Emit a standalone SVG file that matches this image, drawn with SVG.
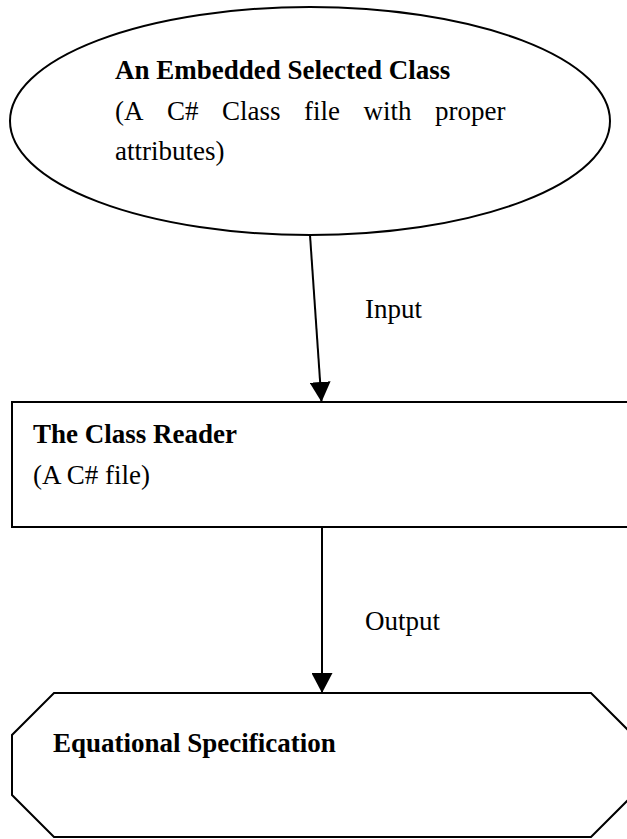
<svg xmlns="http://www.w3.org/2000/svg" width="627" height="839" viewBox="0 0 627 839">
<style>
  .shape { fill: #ffffff; stroke: #000000; stroke-width: 2; }
  .conn { stroke: #000000; stroke-width: 2; fill: none; }
  text { font-family: "Liberation Serif", "Times New Roman", serif; font-size: 27px; fill: #000000; }
  .b { font-weight: bold; }
</style>
<defs>
  <marker id="arrow" viewBox="0 0 20 21" markerUnits="userSpaceOnUse" markerWidth="20" markerHeight="21" refX="20" refY="10.5" orient="auto">
    <path d="M0,0 L20,10.5 L0,21 Z" fill="#000000"/>
  </marker>
</defs>
<rect width="627" height="839" fill="#ffffff"/>
<g id="connectors">
  <line class="conn" x1="310" y1="235" x2="321.5" y2="402" marker-end="url(#arrow)"/>
  <line class="conn" x1="322" y1="527" x2="322" y2="693" marker-end="url(#arrow)"/>
  <text x="365" y="318">Input</text>
  <text x="365" y="630">Output</text>
</g>
<g id="embedded-class">
  <ellipse class="shape" cx="310" cy="121" rx="300" ry="114"/>
  <text class="b" x="115" y="79">An Embedded Selected Class</text>
  <text x="115" y="120">(A</text>
  <text x="167" y="120">C#</text>
  <text x="222" y="120">Class</text>
  <text x="304" y="120">file</text>
  <text x="363.5" y="120">with</text>
  <text x="435" y="120">proper</text>
  <text x="115" y="160">attributes)</text>
</g>
<g id="class-reader">
  <rect class="shape" x="12" y="402" width="630" height="125"/>
  <text class="b" x="33" y="443">The Class Reader</text>
  <text x="33" y="484">(A C# file)</text>
</g>
<g id="equational-spec">
  <polygon class="shape" points="54,693 591,693 633,735 633,795 591,837 54,837 12,795 12,735"/>
  <text class="b" x="53" y="752">Equational Specification</text>
</g>
</svg>
